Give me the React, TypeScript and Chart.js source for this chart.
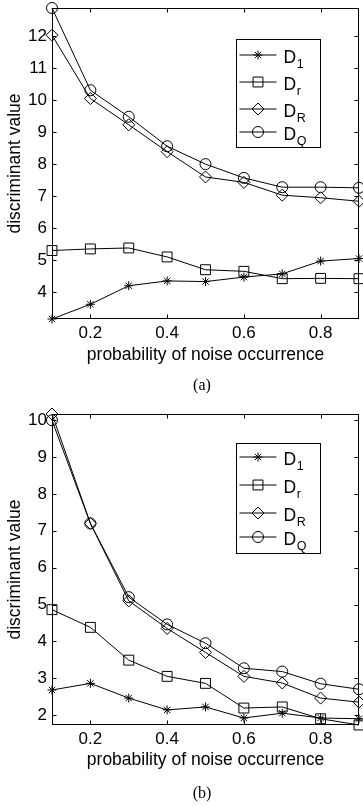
import React, { useEffect, useRef } from "react";
import { Chart, registerables } from "chart.js";

Chart.register(...registerables);

// ---------- data ----------
const xValues = [0.1, 0.2, 0.3, 0.4, 0.5, 0.6, 0.7, 0.8, 0.9];
const xTickValues = [0.2, 0.4, 0.6, 0.8];

// panel (a)
const aD1 = [3.16, 3.62, 4.2, 4.35, 4.33, 4.47, 4.57, 4.97, 5.05];
const aDr = [5.3, 5.35, 5.38, 5.1, 4.7, 4.65, 4.42, 4.43, 4.42];
const aDR = [12.03, 10.05, 9.23, 8.39, 7.6, 7.43, 7.03, 6.95, 6.84];
const aDQ = [12.88, 10.31, 9.48, 8.56, 8.0, 7.57, 7.28, 7.28, 7.26];
const aYTicks = [4, 5, 6, 7, 8, 9, 10, 11, 12];
const aYMin = 3.16;
const aYMax = 12.88;

// panel (b)
const bD1 = [2.68, 2.86, 2.46, 2.14, 2.22, 1.92, 2.05, 1.92, 1.9];
const bDr = [4.86, 4.38, 3.49, 3.05, 2.86, 2.19, 2.22, 1.9, 1.73];
const bDR = [10.17, 7.2, 5.1, 4.35, 3.7, 3.05, 2.87, 2.46, 2.35];
const bDQ = [10.0, 7.2, 5.2, 4.46, 3.95, 3.27, 3.18, 2.85, 2.7];
const bYTicks = [2, 3, 4, 5, 6, 7, 8, 9, 10];
const bYMin = 1.73;
const bYMax = 10.17;

const labelBase = "D";
const labelSubs = ["1", "r", "R", "Q"];
const xTitle = "probability of noise occurrence";
const yTitle = "discriminant value";
const captions = ["(a)", "(b)"];

const FONT = "'Liberation Sans', Arial, Helvetica, sans-serif";

const markerStyles = ["star", "rect", "rectRot", "circle"];
const markerRadii = [4.5, 7, 6, 5.5];

const CANVAS_W = 367;

function drawMarker(ctx: CanvasRenderingContext2D, style: string, x: number, y: number, r: number) {
  ctx.beginPath();
  if (style === "circle") {
    ctx.arc(x, y, r, 0, Math.PI * 2);
  } else if (style === "rect") {
    const s = Math.SQRT1_2 * r;
    ctx.rect(x - s, y - s, 2 * s, 2 * s);
  } else if (style === "rectRot") {
    ctx.moveTo(x - r, y);
    ctx.lineTo(x, y - r);
    ctx.lineTo(x + r, y);
    ctx.lineTo(x, y + r);
    ctx.closePath();
  } else if (style === "star") {
    ctx.moveTo(x - r, y);
    ctx.lineTo(x + r, y);
    ctx.moveTo(x, y - r);
    ctx.lineTo(x, y + r);
    const d = r * Math.SQRT1_2;
    ctx.moveTo(x - d, y - d);
    ctx.lineTo(x + d, y + d);
    ctx.moveTo(x - d, y + d);
    ctx.lineTo(x + d, y - d);
  }
  ctx.stroke();
}

const framePlugin = {
  id: "matlabFrame",
  afterDatasetsDraw(chart: any, _args: any, opts: any) {
    const { ctx, chartArea } = chart;
    const { left, right, top, bottom } = chartArea;
    const xs = chart.scales.x;
    const ys = chart.scales.y;
    ctx.save();
    ctx.strokeStyle = "#000";
    ctx.lineWidth = 1;
    const L = Math.round(left) + 0.5;
    const R = Math.round(right) - 0.5;
    const T = Math.round(top) + 0.5;
    const B = Math.round(bottom) - 0.5;
    ctx.strokeRect(L, T, R - L, B - T);
    const tl = 4;
    ctx.beginPath();
    xs.ticks.forEach((t: any) => {
      const px = Math.round(xs.getPixelForValue(t.value)) + 0.5;
      ctx.moveTo(px, B);
      ctx.lineTo(px, B - tl);
      ctx.moveTo(px, T);
      ctx.lineTo(px, T + tl);
    });
    ys.ticks.forEach((t: any) => {
      const py = Math.round(ys.getPixelForValue(t.value)) + 0.5;
      ctx.moveTo(L, py);
      ctx.lineTo(L + tl, py);
      ctx.moveTo(R, py);
      ctx.lineTo(R - tl, py);
    });
    ctx.stroke();

    // legend box
    const lg = opts.legend;
    const bx = Math.round(right - lg.rightOffset - lg.width) + 0.5;
    const by = Math.round(top + lg.topOffset) + 0.5;
    ctx.fillStyle = "#fff";
    ctx.fillRect(bx, by, lg.width, lg.height);
    ctx.strokeRect(bx, by, lg.width, lg.height);
    labelSubs.forEach((sub, i) => {
      const cy = by + lg.rows[i];
      const my = cy - 1.5;
      ctx.beginPath();
      ctx.moveTo(bx + 3, my);
      ctx.lineTo(bx + 40, my);
      ctx.stroke();
      drawMarker(ctx, markerStyles[i], bx + 21.5, my, markerRadii[i]);
      ctx.fillStyle = "#000";
      ctx.textBaseline = "alphabetic";
      ctx.textAlign = "left";
      ctx.font = `17.5px ${FONT}`;
      const tx = bx + 47;
      ctx.fillText(labelBase, tx, cy + 6.5);
      const w = ctx.measureText(labelBase).width;
      ctx.font = `12.5px ${FONT}`;
      ctx.fillText(sub, tx + w + 0.5, cy + 11.5);
    });
    ctx.restore();
  },
};

type PanelProps = {
  series: number[][];
  yTicks: number[];
  yMin: number;
  yMax: number;
  height: number;
  padTop: number;
  padBottom: number;
  xScaleHeight: number;
  legendRows: number[];
  legendHeight: number;
  legendTop: number;
};

function Panel(p: PanelProps) {
  const ref = useRef<HTMLCanvasElement | null>(null);
  useEffect(() => {
    if (!ref.current) return;
    const datasets = p.series.map((vals, i) => ({
      label: labelBase + labelSubs[i],
      data: xValues.map((x, j) => ({ x, y: vals[j] })),
      borderColor: "#000",
      borderWidth: 1,
      pointStyle: markerStyles[i] as any,
      pointRadius: markerRadii[i],
      pointBorderColor: "#000",
      pointBackgroundColor: "rgba(0,0,0,0)",
      pointBorderWidth: 1,
      tension: 0,
      clip: false as any,
      fill: false,
    }));
    const chart = new Chart(ref.current, {
      type: "line",
      data: { datasets },
      options: {
        animation: false,
        responsive: false,
        devicePixelRatio: 1,
        layout: { padding: { top: p.padTop, right: 1, bottom: p.padBottom, left: 0 } },
        plugins: {
          legend: { display: false },
          tooltip: { enabled: false },
          matlabFrame: {
            legend: {
              rightOffset: 39,
              topOffset: p.legendTop,
              width: 84,
              height: p.legendHeight,
              rows: p.legendRows,
            },
          },
        } as any,
        scales: {
          x: {
            type: "linear",
            min: 0.1,
            max: 0.9,
            grid: { display: false, drawTicks: false },
            border: { display: false },
            afterBuildTicks: (s: any) => {
              s.ticks = xTickValues.map((v) => ({ value: v }));
            },
            afterFit: (s: any) => {
              s.height = p.xScaleHeight;
              s.paddingLeft = 0;
              s.paddingRight = 0;
            },
            ticks: {
              color: "#000",
              padding: 4,
              maxRotation: 0,
              font: { family: FONT, size: 17 },
              callback: (v: any) => String(v),
            },
            title: {
              display: true,
              text: xTitle,
              color: "#000",
              padding: { top: 0, bottom: 0 },
              font: { family: FONT, size: 17.5 },
            },
          },
          y: {
            type: "linear",
            min: p.yMin,
            max: p.yMax,
            grid: { display: false, drawTicks: false },
            border: { display: false },
            afterBuildTicks: (s: any) => {
              s.ticks = p.yTicks.map((v) => ({ value: v }));
            },
            afterFit: (s: any) => {
              s.width = 52;
              s.paddingTop = 0;
              s.paddingBottom = 0;
            },
            ticks: {
              color: "#000",
              padding: 5,
              font: { family: FONT, size: 17 },
              callback: (v: any) => String(v),
            },
            title: {
              display: true,
              text: yTitle,
              color: "#000",
              padding: { top: 5, bottom: 0 },
              font: { family: FONT, size: 17.5 },
            },
          },
        },
      },
      plugins: [framePlugin],
    });
    return () => chart.destroy();
  }, []);
  return (
    <canvas
      ref={ref}
      width={CANVAS_W}
      height={p.height}
      style={{ display: "block", width: CANVAS_W, height: p.height }}
    />
  );
}

const captionStyle: React.CSSProperties = {
  position: "absolute",
  left: 0,
  width: 404,
  textAlign: "center",
  fontFamily: "'Liberation Serif', 'Times New Roman', serif",
  fontSize: 16,
  lineHeight: "20px",
  height: 20,
  color: "#000",
};

export default function App() {
  return (
    <div style={{ position: "absolute", left: 0, top: 0, width: 363, height: 806, overflow: "hidden", background: "#fff" }}>
      <div style={{ position: "absolute", left: 0, top: 0 }}>
        <Panel
          series={[aD1, aDr, aDR, aDQ]}
          yTicks={aYTicks}
          yMin={aYMin}
          yMax={aYMax}
          height={400}
          padTop={7.5}
          padBottom={34.5}
          xScaleHeight={46.5}
          legendRows={[17, 44, 71, 94]}
          legendHeight={108}
          legendTop={30.5}
        />
      </div>
      <div style={{ ...captionStyle, top: 375 }}>{captions[0]}</div>
      <div style={{ position: "absolute", left: 0, top: 400 }}>
        <Panel
          series={[bD1, bDr, bDR, bDQ]}
          yTicks={bYTicks}
          yMin={bYMin}
          yMax={bYMax}
          height={406}
          padTop={14}
          padBottom={35.5}
          xScaleHeight={45.5}
          legendRows={[15, 43, 71, 95]}
          legendHeight={110}
          legendTop={29}
        />
      </div>
      <div style={{ ...captionStyle, top: 783 }}>{captions[1]}</div>
    </div>
  );
}
